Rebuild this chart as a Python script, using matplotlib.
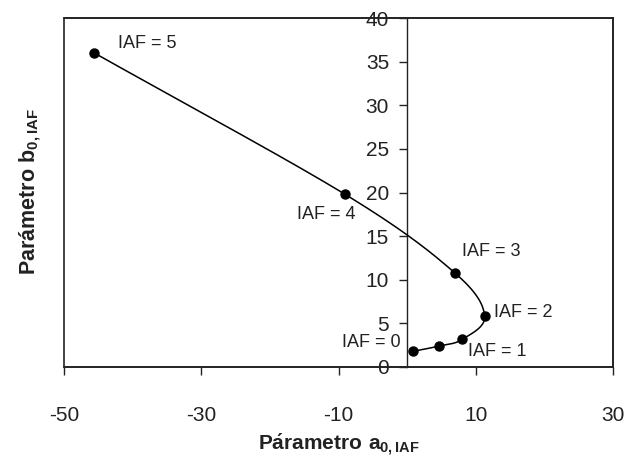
import numpy as np
import matplotlib
matplotlib.use("Agg")
import matplotlib.pyplot as plt
from matplotlib.patches import Rectangle
from matplotlib import font_manager

# ---- data ----
a_vals = [0.87, 4.65, 8.05, 11.3, 6.93, -9.06, -45.6]
b_vals = [1.8, 2.4, 3.17, 5.84, 10.8, 19.8, 36.0]
point_labels = ["IAF = 0", "IAF = 1", "IAF = 2", "IAF = 3", "IAF = 4", "IAF = 5"]
label_x = [-9.45, 8.87, 12.65, 8.0, -16.1, -42.2]
label_y = [2.86, 1.83, 6.3, 13.2, 17.5, 37.1]
x_ticks = [-50, -30, -10, 10, 30]
y_ticks = [0, 5, 10, 15, 20, 25, 30, 35, 40]

names = {f.name for f in font_manager.fontManager.ttflist}
narrow = "Liberation Sans Narrow" if "Liberation Sans Narrow" in names else "Liberation Sans"
plt.rcParams["font.family"] = [narrow, "DejaVu Sans"]
plt.rcParams["mathtext.fontset"] = "custom"
plt.rcParams["mathtext.rm"] = narrow
plt.rcParams["mathtext.bf"] = narrow + ":bold"


def catmull_rom(xs, ys, n=30):
    P = np.column_stack([xs, ys]).astype(float)
    P = np.vstack([2 * P[0] - P[1], P, 2 * P[-1] - P[-2]])
    out = []
    for i in range(1, len(P) - 2):
        p0, p1, p2, p3 = P[i - 1], P[i], P[i + 1], P[i + 2]
        c1 = p1 + (p2 - p0) / 6.0
        c2 = p2 - (p3 - p1) / 6.0
        t = np.linspace(0, 1, n)[:, None]
        seg = ((1 - t) ** 3) * p1 + 3 * ((1 - t) ** 2) * t * c1 + 3 * (1 - t) * t ** 2 * c2 + t ** 3 * p2
        out.append(seg if i == 1 else seg[1:])
    arr = np.vstack(out)
    return arr[:, 0], arr[:, 1]


fig = plt.figure(figsize=(6.24, 4.68), dpi=100)
ax = fig.add_axes([64 / 624, 1 - 367 / 468, (613 - 64) / 624, (367 - 18) / 468])

sx, sy = catmull_rom(a_vals, b_vals)
ax.plot(sx, sy, color="black", lw=1.1, zorder=3)
ax.plot(a_vals, b_vals, "o", color="black", ms=6.5, zorder=4)

for t, lx, ly in zip(point_labels, label_x, label_y):
    ax.text(lx, ly, t, fontsize=13, ha="left", va="center", color="#222222")

ax.set_xlim(-50, 30)
ax.set_ylim(0, 40)

for s in ["top", "right", "bottom"]:
    ax.spines[s].set_linewidth(1.2)
    ax.spines[s].set_color("#222222")
ax.spines["left"].set_position(("data", 0))
ax.spines["left"].set_linewidth(1.0)
ax.spines["left"].set_color("#222222")
ax.add_patch(Rectangle((0, 0), 1, 1, transform=ax.transAxes, fill=False,
                       lw=1.2, edgecolor="#222222", clip_on=False, zorder=5))

ax.set_xticks(x_ticks)
ax.set_xticklabels([str(v) for v in x_ticks])
ax.set_yticks(y_ticks)
ax.set_yticklabels([str(v) for v in y_ticks])
ax.tick_params(axis="x", direction="out", length=6, width=1, pad=22, labelsize=15, colors="#222222")
ax.tick_params(axis="y", direction="out", length=6, width=1, pad=7, labelsize=15, colors="#222222")

fig.text(339 / 624, 1 - 445 / 468, r"$\mathbf{P\acute{a}rametro\ a_{0,IAF}}$", fontsize=15,
         ha="center", va="center", color="#222222")
fig.text(30 / 624, 1 - 192 / 468, r"Parámetro b$_{\mathbf{0,IAF}}$", fontsize=15.5,
         fontweight="bold", family=["Liberation Sans", "DejaVu Sans"],
         rotation=90, ha="center", va="center", color="#222222")

fig.savefig("out.png", dpi=100)
